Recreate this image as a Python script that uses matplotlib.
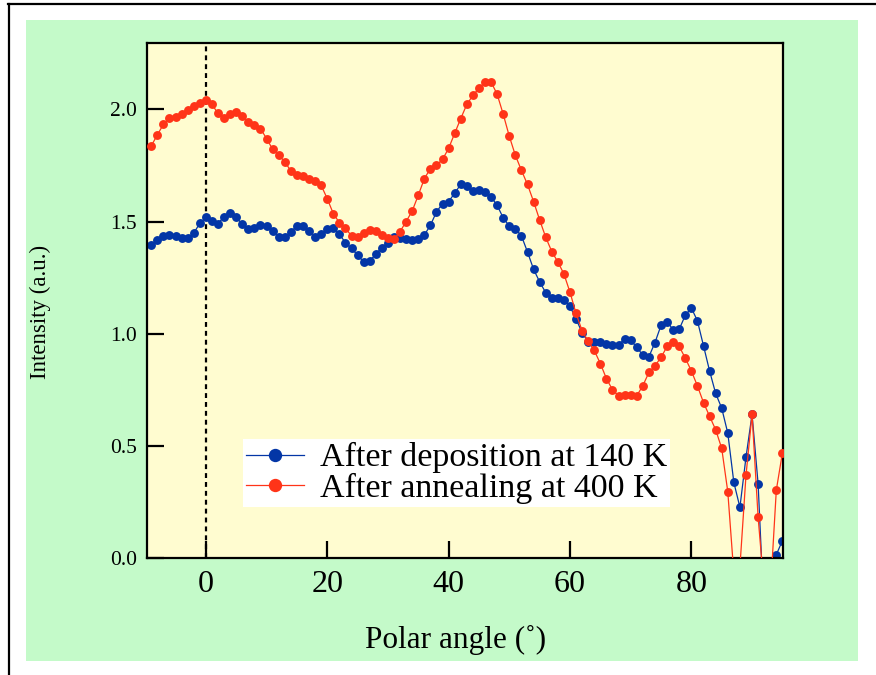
import numpy as np
import matplotlib
matplotlib.use("Agg")
import matplotlib.pyplot as plt
from matplotlib.patches import Rectangle
from matplotlib.lines import Line2D

plt.rcParams['font.family'] = ['Liberation Serif', 'DejaVu Serif']

# polar angle grid (deg), one point per degree
angle = np.arange(-9, 96)

# after deposition at 140 K
dep_140 = [1.394, 1.418, 1.436, 1.440, 1.436, 1.425, 1.425, 1.448, 1.492, 1.518,
           1.503, 1.491, 1.522, 1.537, 1.518, 1.488, 1.466, 1.469, 1.483, 1.480,
           1.458, 1.429, 1.429, 1.454, 1.480, 1.480, 1.458, 1.433, 1.443, 1.466,
           1.470, 1.443, 1.406, 1.380, 1.350, 1.320, 1.325, 1.354, 1.384, 1.406,
           1.433, 1.428, 1.421, 1.416, 1.421, 1.440, 1.483, 1.543, 1.580, 1.589,
           1.626, 1.666, 1.658, 1.636, 1.641, 1.632, 1.609, 1.572, 1.516, 1.480,
           1.468, 1.436, 1.364, 1.287, 1.231, 1.183, 1.157, 1.157, 1.152, 1.122,
           1.065, 1.005, 0.964, 0.961, 0.963, 0.956, 0.948, 0.951, 0.975, 0.970,
           0.940, 0.904, 0.897, 0.960, 1.037, 1.054, 1.017, 1.020, 1.082, 1.115,
           1.057, 0.946, 0.834, 0.734, 0.668, 0.557, 0.337, 0.226, 0.449, 0.640,
           0.330, -0.26, -0.20, 0.015, 0.077]

# after annealing at 400 K
ann_400 = [1.837, 1.886, 1.933, 1.963, 1.966, 1.978, 1.997, 2.015, 2.027, 2.040,
           2.022, 1.982, 1.963, 1.978, 1.988, 1.970, 1.944, 1.929, 1.914, 1.870,
           1.822, 1.795, 1.767, 1.725, 1.706, 1.703, 1.691, 1.680, 1.661, 1.602,
           1.535, 1.495, 1.470, 1.436, 1.433, 1.451, 1.463, 1.459, 1.439, 1.425,
           1.421, 1.455, 1.500, 1.547, 1.617, 1.691, 1.736, 1.751, 1.777, 1.826,
           1.893, 1.959, 2.022, 2.062, 2.094, 2.122, 2.122, 2.067, 1.978, 1.880,
           1.795, 1.728, 1.665, 1.589, 1.507, 1.430, 1.366, 1.320, 1.266, 1.185,
           1.090, 1.013, 0.966, 0.925, 0.867, 0.800, 0.750, 0.723, 0.726, 0.726,
           0.723, 0.768, 0.827, 0.857, 0.894, 0.943, 0.964, 0.943, 0.891, 0.834,
           0.767, 0.693, 0.632, 0.572, 0.489, 0.296, -0.07, -0.04, 0.368, 0.641,
           0.181, -0.14, -0.16, 0.303, 0.468]

xticks = [0, 20, 40, 60, 80]
yticks = [0.0, 0.5, 1.0, 1.5, 2.0]

W, H = 876, 675
fig = plt.figure(figsize=(W / 100, H / 100), dpi=100)
fig.patch.set_facecolor('white')

# green panel + outer frame
fig.patches.append(Rectangle((26 / W, 1 - 661 / H), (858 - 26) / W, (661 - 20) / H,
                             transform=fig.transFigure, facecolor='#c4fac9',
                             edgecolor='none', zorder=-10))
fig.add_artist(Line2D([8 / W, 1], [1 - 4 / H, 1 - 4 / H], transform=fig.transFigure,
                      color='black', lw=1.6))
fig.add_artist(Line2D([9 / W, 9 / W], [0, 1 - 4 / H], transform=fig.transFigure,
                      color='black', lw=1.6))

ax = fig.add_axes([147 / W, 1 - 558 / H, (783 - 147) / W, (558 - 42.5) / H])
ax.set_zorder(5)
ax.set_facecolor('#fffcd0')

ax.axvline(0, color='black', lw=1.6, ls=(0, (2.2, 1.8)), zorder=1)

ax.plot(angle, dep_140, '-o', color='#0336a6', lw=0.9, ms=6.4, mew=0,
        label='After deposition at 140 K', zorder=2)
ax.plot(angle, ann_400, '-o', color='#ff3418', lw=0.9, ms=6.4, mew=0,
        label='After annealing at 400 K', zorder=3)

ax.set_xlim(-9.7, 95.1)
ax.set_ylim(0, 2.298)
ax.set_xticks(xticks)
ax.set_xticklabels([str(t) for t in xticks], fontsize=23)
ax.set_yticks(yticks)
ax.set_yticklabels(['%.1f' % t for t in yticks], fontsize=15.5)
ax.tick_params(direction='in', length=12, width=1.6, top=False, right=False)
ax.tick_params(axis='x', pad=9)
ax.tick_params(axis='y', pad=7)
for s in ax.spines.values():
    s.set_linewidth(1.6)

fig.text(456 / W, 1 - 640 / H, 'Polar angle (˚)', fontsize=22.5, ha='center', va='center')
fig.text(40 / W, 1 - 312 / H, 'Intensity (a.u.)', fontsize=16.5, rotation=90,
         ha='center', va='center')

leg = ax.legend(loc='upper left', bbox_to_anchor=(243 / W, 1 - 439 / H),
                bbox_transform=fig.transFigure, fontsize=24.5, markerscale=1.5,
                handlelength=1.7, handletextpad=0.45, borderpad=0.1,
                labelspacing=-0.02, borderaxespad=0, fancybox=False,
                framealpha=1, facecolor='white', edgecolor='none')

fig.savefig('out.png', dpi=100)
